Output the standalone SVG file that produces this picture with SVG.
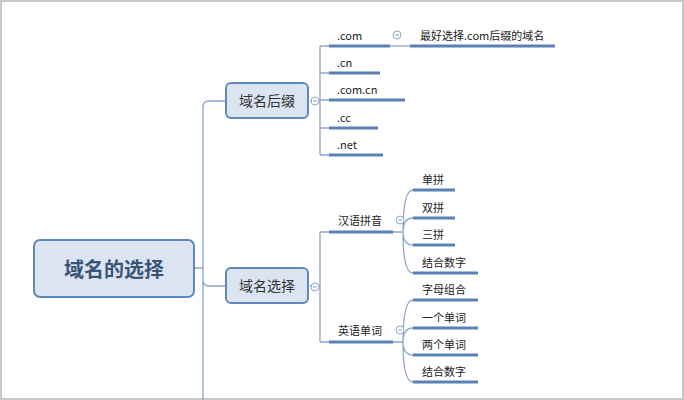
<svg xmlns="http://www.w3.org/2000/svg" width="684" height="400" viewBox="0 0 684 400">
<style>
text{font-family:"Noto Sans CJK SC","Liberation Sans",sans-serif;fill:#222}
.t{font-size:11px}
.c{fill:none;stroke:#8da6c8;stroke-width:1.3}
.u{stroke:#5b80b4;stroke-width:3}
.box{fill:#dbe5f1;stroke:#5f88bb;stroke-width:2}
.k{fill:#fff;stroke:#8da6c8;stroke-width:1}
</style>
<rect x="1" y="1" width="682" height="398" fill="#fff" stroke="#c8c8c8" stroke-width="2"/>
<g id="connectors">
<path class="c" d="M195 268H203M203 400V107Q203 101 209 101H226M203 280Q203 286 209 286H226"/>
<path class="c" d="M310 101H320M320 46V155M320 46H329M320 73H329M320 100H329M320 128H329M320 155H329"/>
<path class="c" d="M390 46H410"/>
<path class="c" d="M310 286H320M320 232V342M320 232H329M320 342H329"/>
<path class="c" d="M393 232H403M403 232Q403 190 413 190M403 232Q403 218 413 218M403 232Q403 245 413 245M403 232Q403 273 413 273"/>
<path class="c" d="M393 342H403M403 342Q403 300 413 300M403 342Q403 328 413 328M403 342Q403 355 413 355M403 342Q403 382 413 382"/>
</g>
<g id="root"><rect class="box" x="34" y="240" width="160" height="57" rx="6" stroke-width="4"/><text x="114" y="277" text-anchor="middle" font-size="20" font-weight="bold" style="fill:#3a5478">域名的选择</text></g>
<g id="suffix"><rect class="box" x="226" y="83" width="82" height="35" rx="5"/><text x="267" y="106" text-anchor="middle" font-size="14" style="fill:#333">域名后缀</text><circle class="k" cx="315" cy="101" r="4"/><path d="M313 101h4" stroke="#8da6c8"/></g>
<g id="choice"><rect class="box" x="226" y="268" width="82" height="35" rx="5"/><text x="267" y="291" text-anchor="middle" font-size="14" style="fill:#333">域名选择</text><circle class="k" cx="315" cy="287" r="4"/><path d="M313 287h4" stroke="#8da6c8"/></g>
<g id="s1"><text class="t" x="337" y="40">.com</text><path class="u" d="M329 46H390"/><circle class="k" cx="397" cy="35" r="4"/><path d="M395 35h4" stroke="#8da6c8"/></g>
<g id="s1a"><text class="t" x="420" y="40">最好选择.com后缀的域名</text><path class="u" d="M410 46H555"/></g>
<g id="s2"><text class="t" x="337" y="67">.cn</text><path class="u" d="M329 73H380"/></g>
<g id="s3"><text class="t" x="337" y="94">.com.cn</text><path class="u" d="M329 100H405"/></g>
<g id="s4"><text class="t" x="337" y="122">.cc</text><path class="u" d="M329 128H378"/></g>
<g id="s5"><text class="t" x="337" y="149">.net</text><path class="u" d="M329 155H383"/></g>
<g id="py"><text class="t" x="338" y="225">汉语拼音</text><path class="u" d="M329 232H393"/><circle class="k" cx="400" cy="220" r="4"/><path d="M398 220h4" stroke="#8da6c8"/></g>
<g id="en"><text class="t" x="338" y="335">英语单词</text><path class="u" d="M329 342H393"/><circle class="k" cx="400" cy="330" r="4"/><path d="M398 330h4" stroke="#8da6c8"/></g>
<g id="p1"><text class="t" x="422" y="184">单拼</text><path class="u" d="M413 190H455"/></g>
<g id="p2"><text class="t" x="422" y="212">双拼</text><path class="u" d="M413 218H455"/></g>
<g id="p3"><text class="t" x="422" y="239">三拼</text><path class="u" d="M413 245H455"/></g>
<g id="p4"><text class="t" x="422" y="267">结合数字</text><path class="u" d="M413 273H478"/></g>
<g id="e1"><text class="t" x="422" y="294">字母组合</text><path class="u" d="M413 300H478"/></g>
<g id="e2"><text class="t" x="422" y="322">一个单词</text><path class="u" d="M413 328H478"/></g>
<g id="e3"><text class="t" x="422" y="349">两个单词</text><path class="u" d="M413 355H478"/></g>
<g id="e4"><text class="t" x="422" y="376">结合数字</text><path class="u" d="M413 382H478"/></g>
</svg>
